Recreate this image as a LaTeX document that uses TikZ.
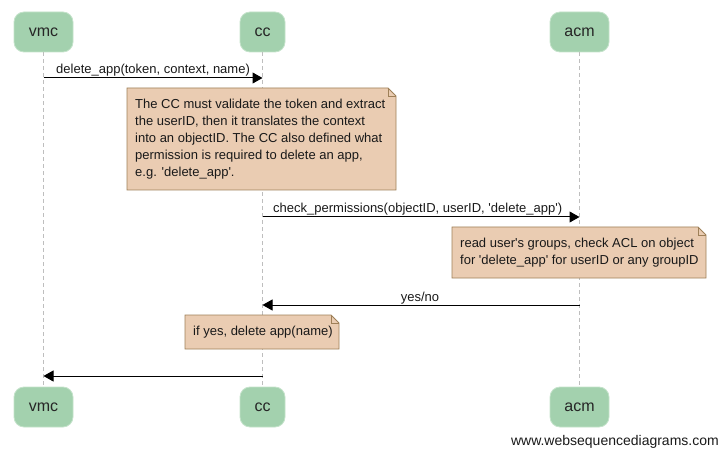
\documentclass[tikz,border=0pt]{standalone}
\usepackage{fontspec}
\setmainfont{Liberation Sans}[Ligatures=TeXOff]
\usetikzlibrary{arrows.meta}
\definecolor{actorfill}{RGB}{163,209,174}
\definecolor{actorline}{RGB}{196,226,202}
\definecolor{notefill}{RGB}{234,204,178}
\definecolor{noteline}{RGB}{158,128,88}
\definecolor{lifeline}{RGB}{190,190,190}
\begin{document}
\begin{tikzpicture}[x=1pt,y=-1pt,
  actor/.style={draw=actorline,line width=0.8pt,fill=actorfill,rounded corners=10pt,
    minimum height=40pt,inner xsep=0pt,font=\fontsize{16}{18}\selectfont,text=black!85},
  life/.style={draw=lifeline,dashed,dash pattern=on 4pt off 3pt,line width=0.8pt},
  msg/.style={draw=black,line width=1pt,-{Triangle[length=10pt,width=11pt]}},
  msglabel/.style={anchor=base west,inner sep=0pt,font=\fontsize{13}{15}\selectfont,text=black!90},
  notebox/.style={anchor=north west,inner xsep=8pt,inner ysep=0pt,align=left,
    font=\fontsize{13}{17}\selectfont,text=black!90},
  notepath/.style={draw=noteline,fill=notefill,line width=0.8pt}
]
\useasboundingbox (0,0) rectangle (720,449);

% participants, top row
\node[actor,minimum width=59pt] (vmcT) at (43.5,32) {vmc};
\node[actor,minimum width=45pt] (ccT)  at (262.5,32) {cc};
\node[actor,minimum width=59pt] (acmT) at (579.5,32) {acm};
% participants, bottom row
\node[actor,minimum width=59pt] (vmcB) at (43.5,407) {vmc};
\node[actor,minimum width=45pt] (ccB)  at (262.5,407) {cc};
\node[actor,minimum width=59pt] (acmB) at (579.5,407) {acm};

% lifelines
\draw[life] (vmcT.south) -- (vmcB.north);
\draw[life] (ccT.south) -- (ccB.north);
\draw[life] (acmT.south) -- (acmB.north);

% message anchor points on the lifelines
\coordinate (m1s) at (vmcT.south |- 0,78);
\coordinate (m1e) at (ccT.south |- 0,78);
\coordinate (m2s) at (ccT.south |- 0,217);
\coordinate (m2e) at (acmT.south |- 0,217);
\coordinate (m3s) at (acmT.south |- 0,305);
\coordinate (m3e) at (ccT.south |- 0,305);
\coordinate (m4s) at (ccT.south |- 0,376);
\coordinate (m4e) at (vmcT.south |- 0,376);

% notes: folded-corner boxes
\newcommand{\dogear}[5]{% x1,y1,x2,y2,fold
  \filldraw[notepath] (#1,#2) -- (#3-#5,#2) -- (#3,#2+#5) -- (#3,#4) -- (#1,#4) -- cycle;
  \draw[noteline,line width=0.8pt] (#3-#5,#2) -- (#3-#5,#2+#5) -- (#3,#2+#5);
}
\dogear{127}{88}{396}{190}{8}
\node[notebox,minimum height=102pt] (n1) at (127,88)
  {The CC must validate the token and extract\\
   the userID, then it translates the context\\
   into an objectID. The CC also defined what\\
   permission is required to delete an app,\\
   e.g. 'delete\_app'.};
\dogear{452}{227}{706}{278}{8}
\node[notebox,minimum height=51pt] (n2) at (452,227)
  {read user's groups, check ACL on object\\
   for 'delete\_app' for userID or any groupID};
\dogear{185}{315}{339}{349}{8}
\node[notebox,minimum height=34pt] (n3) at (185,315)
  {if yes, delete app(name)};

% messages
\draw[msg] (m1s) -- (m1e);
\node[msglabel] (l1) at (56,74) {delete\_app(token, context, name)};
\draw[msg] (m2s) -- (m2e);
\node[msglabel] (l2) at (273,213) {check\_permissions(objectID, userID, 'delete\_app')};
\draw[msg] (m3s) -- (m3e);
\node[msglabel,anchor=base] (l3) at (420,301) {yes/no};
\draw[msg] (m4s) -- (m4e);

% footer
\node[anchor=base east,inner sep=0pt,font=\fontsize{14}{16}\selectfont,text=black!90] (footer)
  at (719,445) {www.websequencediagrams.com};
\end{tikzpicture}
\end{document}
